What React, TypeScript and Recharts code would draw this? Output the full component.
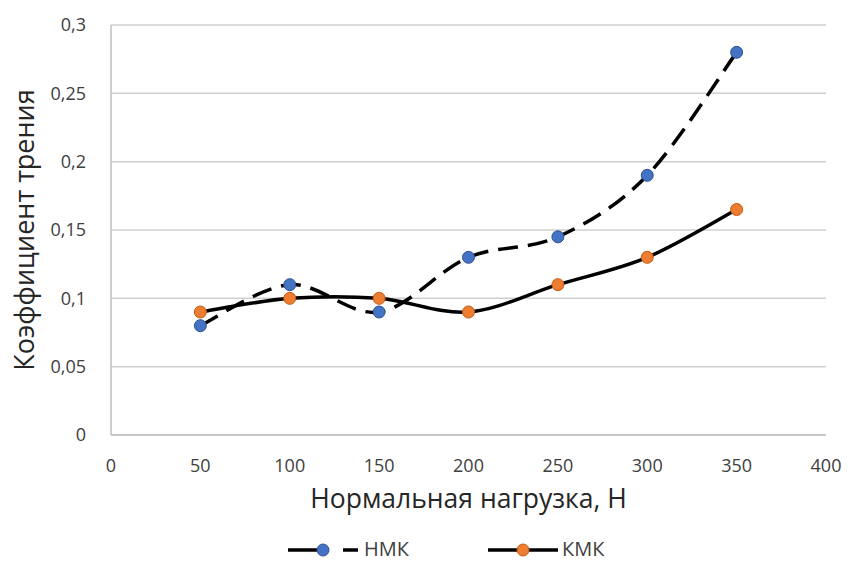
import React from "react";
import {
  LineChart,
  Line,
  XAxis,
  YAxis,
  CartesianGrid,
  Legend,
} from "recharts";

// нагрузка, Н
const loads = [50, 100, 150, 200, 250, 300, 350];
const nmk = [0.08, 0.11, 0.09, 0.13, 0.145, 0.19, 0.28];
const kmk = [0.09, 0.1, 0.1, 0.09, 0.11, 0.13, 0.165];
const xTicks = [0, 50, 100, 150, 200, 250, 300, 350, 400];
const yTicks = [0, 0.05, 0.1, 0.15, 0.2, 0.25, 0.3];

const data = loads.map((x, i) => ({ x, nmk: nmk[i], kmk: kmk[i] }));

const FONT = "'Open Sans', sans-serif";
const BLUE = "#4472C4";
const ORANGE = "#ED7D31";
const TEXT = "#404040";

// Excel-style smoothing (Catmull-Rom through the points)
function smooth(context: any) {
  let pts: number[][] = [];
  return {
    areaStart() {},
    areaEnd() {},
    lineStart() {
      pts = [];
    },
    point(x: number, y: number) {
      pts.push([+x, +y]);
    },
    lineEnd() {
      if (!pts.length) return;
      context.moveTo(pts[0][0], pts[0][1]);
      for (let i = 0; i < pts.length - 1; i++) {
        const p0 = pts[Math.max(i - 1, 0)];
        const p1 = pts[i];
        const p2 = pts[i + 1];
        const p3 = pts[Math.min(i + 2, pts.length - 1)];
        context.bezierCurveTo(
          p1[0] + (p2[0] - p0[0]) / 6,
          p1[1] + (p2[1] - p0[1]) / 6,
          p2[0] - (p3[0] - p1[0]) / 6,
          p2[1] - (p3[1] - p1[1]) / 6,
          p2[0],
          p2[1]
        );
      }
    },
  };
}

const fmt = (v: number) => String(v).replace(".", ",");

function LegendContent() {
  return (
    <svg width={850} height={34} style={{ display: "block" }}>
      <g>
        <line x1={288} y1={22} x2={320} y2={22} stroke="#000" strokeWidth={3.5} />
        <line x1={343} y1={22} x2={358} y2={22} stroke="#000" strokeWidth={3.5} />
        <circle cx={323} cy={22} r={6} fill={BLUE} stroke="#2F528F" strokeWidth={1} />
        <text x={364} y={28} fontFamily={FONT} fontSize={20} fill={TEXT}>
          НМК
        </text>
        <line x1={488} y1={22} x2={558} y2={22} stroke="#000" strokeWidth={3.5} />
        <circle cx={523} cy={22} r={6} fill={ORANGE} stroke="#C55A11" strokeWidth={1} />
        <text x={562} y={28} fontFamily={FONT} fontSize={20} fill={TEXT}>
          КМК
        </text>
      </g>
    </svg>
  );
}

export default function App() {
  return (
    <div style={{ position: "absolute", left: 0, top: 0, width: 850, height: 562, background: "#fff" }}>
      <LineChart
        width={850}
        height={562}
        data={data}
        margin={{ top: 25, right: 24, left: 0, bottom: 0 }}
      >
        <CartesianGrid vertical={false} stroke="#cfcfcf" strokeWidth={1.5} />
        <XAxis
          dataKey="x"
          type="number"
          domain={[0, 400]}
          ticks={xTicks}
          height={127}
          tickLine={false}
          axisLine={{ stroke: "#bfbfbf", strokeWidth: 1.5 }}
          tick={{ fontFamily: FONT, fontSize: 18, fill: TEXT }}
          tickMargin={18}
          label={{
            value: "Нормальная нагрузка, Н",
            position: "insideTop",
            offset: 54,
            style: { fontFamily: FONT, fontSize: 26.5, fill: "#262626" },
          }}
        />
        <YAxis
          type="number"
          domain={[0, 0.3]}
          ticks={yTicks}
          width={111}
          tickLine={false}
          axisLine={{ stroke: "#bfbfbf", strokeWidth: 1.5 }}
          tickFormatter={fmt}
          tick={{ fontFamily: FONT, fontSize: 18, fill: TEXT }}
          tickMargin={19}
          label={{
            value: "Коэффициент трения",
            angle: -90,
            position: "insideLeft",
            offset: 24,
            style: { fontFamily: FONT, fontSize: 27, fill: "#262626", textAnchor: "middle" },
          }}
        />
        <Legend
          layout="horizontal"
          verticalAlign="middle"
          align="center"
          wrapperStyle={{ position: "absolute", top: 528, left: 0, width: 850, height: 34 }}
          content={<LegendContent />}
        />
        <Line
          dataKey="nmk"
          type={smooth as any}
          stroke="#000"
          strokeWidth={3.5}
          strokeDasharray="20 10"
          dot={{ r: 6, fill: BLUE, stroke: "#2F528F", strokeWidth: 1, strokeDasharray: "" }}
          isAnimationActive={false}
        />
        <Line
          dataKey="kmk"
          type={smooth as any}
          stroke="#000"
          strokeWidth={3.5}
          dot={{ r: 6, fill: ORANGE, stroke: "#C55A11", strokeWidth: 1 }}
          isAnimationActive={false}
        />
      </LineChart>
    </div>
  );
}
